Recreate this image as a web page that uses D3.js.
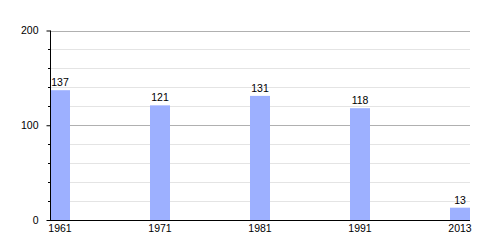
<!DOCTYPE html>
<html>
<head>
<meta charset="utf-8">
<script src="https://cdn.jsdelivr.net/npm/d3@7"></script>
<style>
  body { margin: 0; background: #fff; }
  text { font-family: "Liberation Sans", Arial, sans-serif; font-size: 10.5px; fill: #000; }
</style>
</head>
<body>
<div id="vis"></div>
<script>
// data
var years = ['1961', '1971', '1981', '1991', '2013'];
var population = [137, 121, 131, 118, 13];
var yTicks = [0, 100, 200];

var width = 500, height = 250;
var plotLeft = 50, plotRight = 470, plotTop = 30.5, plotBottom = 220;
var barW = 20;

var svg = d3.select('#vis').append('svg')
    .attr('width', width)
    .attr('height', height);

// each bar sits at the left edge of its slot; last bar ends at the right edge
var step = (plotRight - barW - plotLeft) / (years.length - 1);
var x = d3.scaleBand()
    .domain(years)
    .range([plotLeft, plotLeft + step * years.length])
    .paddingInner(0);

var y = d3.scaleLinear()
    .domain([0, 200])
    .range([plotBottom, plotTop]);

function py(d) { return Math.round(y(d)) + 0.5; }

// minor grid
var minor = d3.range(20, 200, 20).filter(function (d) { return d % 100 !== 0; });
svg.append('g').selectAll('line')
    .data(minor)
    .enter().append('line')
    .attr('x1', plotLeft).attr('x2', plotRight)
    .attr('y1', py).attr('y2', py)
    .attr('stroke', '#e4e4e4');

// major grid
svg.append('g').selectAll('line')
    .data(yTicks.filter(function (d) { return d > 0; }))
    .enter().append('line')
    .attr('x1', plotLeft).attr('x2', plotRight)
    .attr('y1', py).attr('y2', py)
    .attr('stroke', '#b0b0b0');

// bars
svg.append('g').selectAll('rect')
    .data(population)
    .enter().append('rect')
    .attr('x', function (d, i) { return x(years[i]); })
    .attr('width', barW)
    .attr('y', function (d) { return y(d); })
    .attr('height', function (d) { return plotBottom - y(d); })
    .attr('fill', '#9db0ff');

// value labels
svg.append('g').selectAll('text')
    .data(population)
    .enter().append('text')
    .attr('x', function (d, i) { return x(years[i]) + barW / 2; })
    .attr('y', function (d) { return y(d) - 4; })
    .attr('text-anchor', 'middle')
    .text(function (d) { return d; });

// y axis
var yAxis = svg.append('g')
    .attr('transform', 'translate(' + (plotLeft + 0.5) + ',0)')
    .call(d3.axisLeft(y).tickValues(yTicks).tickSize(4).tickPadding(8).tickFormat(d3.format('d')));
yAxis.select('.domain').attr('d', 'M0,' + plotTop + 'V' + plotBottom);
yAxis.attr('font-size', null).attr('font-family', null);

svg.append('g').selectAll('line')
    .data(minor)
    .enter().append('line')
    .attr('x1', plotLeft - 2).attr('x2', plotLeft)
    .attr('y1', py).attr('y2', py)
    .attr('stroke', '#000');

// x axis
svg.append('line')
    .attr('x1', plotLeft).attr('x2', plotRight)
    .attr('y1', plotBottom + 0.5).attr('y2', plotBottom + 0.5)
    .attr('stroke', '#000');

svg.append('g').selectAll('text')
    .data(years)
    .enter().append('text')
    .attr('x', function (d) { return x(d) + barW / 2; })
    .attr('y', plotBottom + 12)
    .attr('text-anchor', 'middle')
    .text(function (d) { return d; });
</script>
</body>
</html>
